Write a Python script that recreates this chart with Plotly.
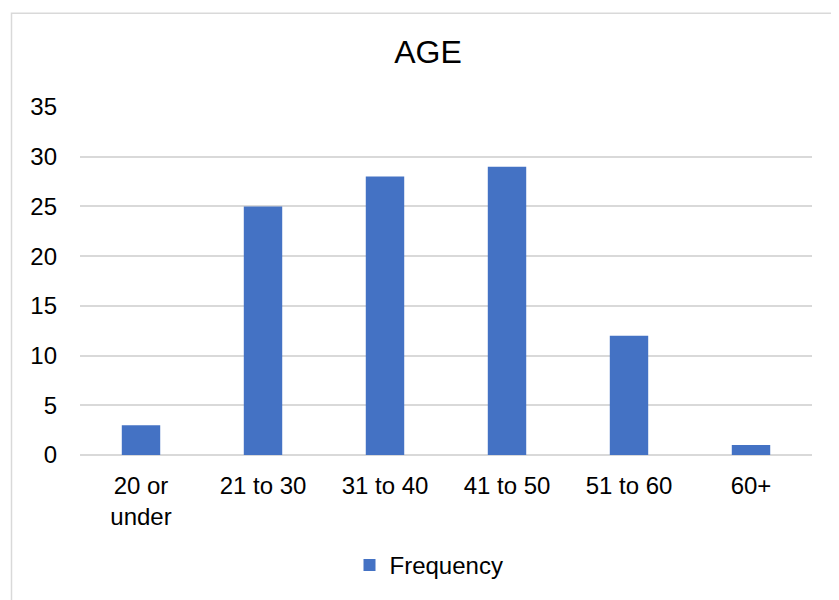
import plotly.graph_objects as go

categories = ["20 or<br>under", "21 to 30", "31 to 40", "41 to 50", "51 to 60", "60+"]
frequency = [3, 25, 28, 29, 12, 1]
y_ticks = [0, 5, 10, 15, 20, 25, 30, 35]

# page body has an 8px margin; build the figure so it fits the window
OFF = 8
W, H = 839 - OFF, 600 - OFF
L, R, T, B = 80 - OFF, 839 - 812, 107 - OFF, 600 - 460
pw, ph = W - L - R, H - T - B

def px_x(x):
    return (x - OFF - L) / pw

def px_y(y):
    return (H - B - (y - OFF)) / ph

fig = go.Figure()
fig.add_trace(go.Bar(
    x=categories, y=frequency, name="Frequency",
    marker=dict(color="#4472C4", line=dict(width=0)),
    width=0.315,
))

fig.update_layout(
    width=W, height=H,
    margin=dict(l=L, r=R, t=T, b=B),
    paper_bgcolor="white", plot_bgcolor="white",
    font=dict(family="Liberation Sans, Arial", size=24, color="#000000"),
    title=dict(text="AGE", x=px_x(428), xref="paper", xanchor="center",
               y=1 - (52 - OFF) / H, yanchor="middle", font=dict(size=32, color="#000000")),
    showlegend=True,
    legend=dict(orientation="h", x=px_x(429), xanchor="center", y=px_y(572), yanchor="middle",
                font=dict(size=24), itemwidth=30, bgcolor="rgba(0,0,0,0)"),
    xaxis=dict(showgrid=False, showline=False, ticks="", tickfont=dict(size=24),
               ticklabelstandoff=14),
    yaxis=dict(range=[0, 35], tickvals=y_ticks, showgrid=True, gridcolor="#d9d9d9", gridwidth=1.5,
               zeroline=True, zerolinecolor="#d9d9d9", zerolinewidth=1.5, showline=False,
               ticks="", tickfont=dict(size=24), ticklabelstandoff=22),
    shapes=[dict(type="rect", xref="paper", yref="paper",
                 x0=px_x(11.5), x1=1.2, y0=-0.6, y1=px_y(12),
                 line=dict(color="#d9d9d9", width=1.5), fillcolor="rgba(0,0,0,0)", layer="below")],
)

fig.write_html("out.html")
